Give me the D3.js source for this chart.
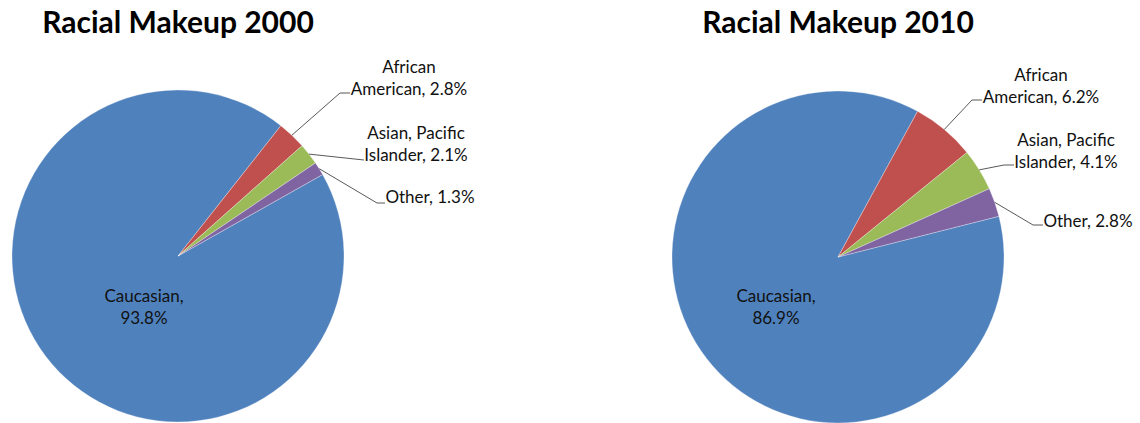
<!DOCTYPE html>
<html>
<head>
<meta charset="utf-8">
<script src="https://cdn.jsdelivr.net/npm/d3@7"></script>
<style>
  html, body { margin: 0; padding: 0; background: #fff; }
  svg { display: block; }
  text { font-family: Lato, "Open Sans", sans-serif; fill: #111; }
</style>
</head>
<body>
<svg id="chart" width="1140" height="423"></svg>
<script>
// Population share by group, census years 2000 and 2010
const groups = ["Caucasian", "African American", "Asian, Pacific Islander", "Other"];
const share2000 = [93.8, 2.8, 2.1, 1.3];
const share2010 = [86.9, 6.2, 4.1, 2.8];
const titles = ["Racial Makeup 2000", "Racial Makeup 2010"];

// Label lines for each slice (first entry sits inside the Caucasian slice)
const labelLines = [
  ["Caucasian,", "{v}"],
  ["African", "American, {v}"],
  ["Asian, Pacific", "Islander, {v}"],
  ["Other, {v}"]
];

const colors = ["#4F81BD", "#C0504D", "#9BBB59", "#8064A2"];

// Layout of each pie: centre, rotation and where the outside labels sit
const charts = [
  {
    title: titles[0], values: share2000, cx: 178, cy: 256, r: 166,
    startDeg: 60.6,
    inner: { x: 144, y: 296 },
    outside: [
      null,
      { elbow: [340, 93], end: [350, 93], text: [409, 67] },
      { elbow: [364, 160], end: [364, 160], text: [416, 133] },
      { elbow: [377, 203], end: [385, 203], text: [430, 197] }
    ]
  },
  {
    title: titles[1], values: share2010, cx: 838, cy: 257, r: 166,
    startDeg: 75.8,
    inner: { x: 776, y: 296 },
    outside: [
      null,
      { elbow: [972, 100], end: [982, 100], text: [1041, 75] },
      { elbow: [1004, 165], end: [1014, 165], text: [1066, 140] },
      { elbow: [1033, 225], end: [1043, 225], text: [1088, 221] }
    ]
  }
];

const svg = d3.select("#chart");
const fmt = v => d3.format(".1f")(v) + "%";

charts.forEach(c => {
  const g = svg.append("g");

  // title
  g.append("text")
    .attr("x", c.cx).attr("y", 33)
    .attr("text-anchor", "middle")
    .attr("font-size", 30).attr("font-weight", 700)
    .style("fill", "#000")
    .text(c.title);

  const start = c.startDeg * Math.PI / 180;
  const pie = d3.pie().sort(null).startAngle(start).endAngle(start + 2 * Math.PI);
  const arcs = pie(c.values);
  const arc = d3.arc().innerRadius(0).outerRadius(c.r);

  const pg = g.append("g").attr("transform", `translate(${c.cx},${c.cy})`);
  pg.selectAll("path")
    .data(arcs)
    .join("path")
    .attr("d", arc)
    .attr("fill", (d, i) => colors[i])
    .attr("stroke", "#ffffff")
    .attr("stroke-opacity", 0.5)
    .attr("stroke-width", 0.6);

  // inside label for the large slice
  const inner = g.append("text")
    .attr("text-anchor", "middle")
    .attr("font-size", 17);
  labelLines[0].forEach((ln, k) => {
    inner.append("tspan")
      .attr("x", c.inner.x)
      .attr("y", c.inner.y + k * 22)
      .attr("dy", "0.35em")
      .text(ln.replace("{v}", fmt(c.values[0])));
  });

  // outside labels with leader lines
  arcs.forEach((a, i) => {
    const o = c.outside[i];
    if (!o) return;
    const mid = (a.startAngle + a.endAngle) / 2;
    const p0 = [c.cx + c.r * Math.sin(mid), c.cy - c.r * Math.cos(mid)];
    g.append("polyline")
      .attr("points", [p0, o.elbow, o.end].map(p => p.join(",")).join(" "))
      .attr("fill", "none")
      .attr("stroke", "#595959")
      .attr("stroke-width", 1);

    const lines = labelLines[i];
    const t = g.append("text")
      .attr("text-anchor", "middle")
      .attr("font-size", 17);
    lines.forEach((ln, k) => {
      t.append("tspan")
        .attr("x", o.text[0])
        .attr("y", o.text[1] + k * 22)
        .attr("dy", "0.35em")
        .text(ln.replace("{v}", fmt(c.values[i])));
    });
  });
});
</script>
</body>
</html>
